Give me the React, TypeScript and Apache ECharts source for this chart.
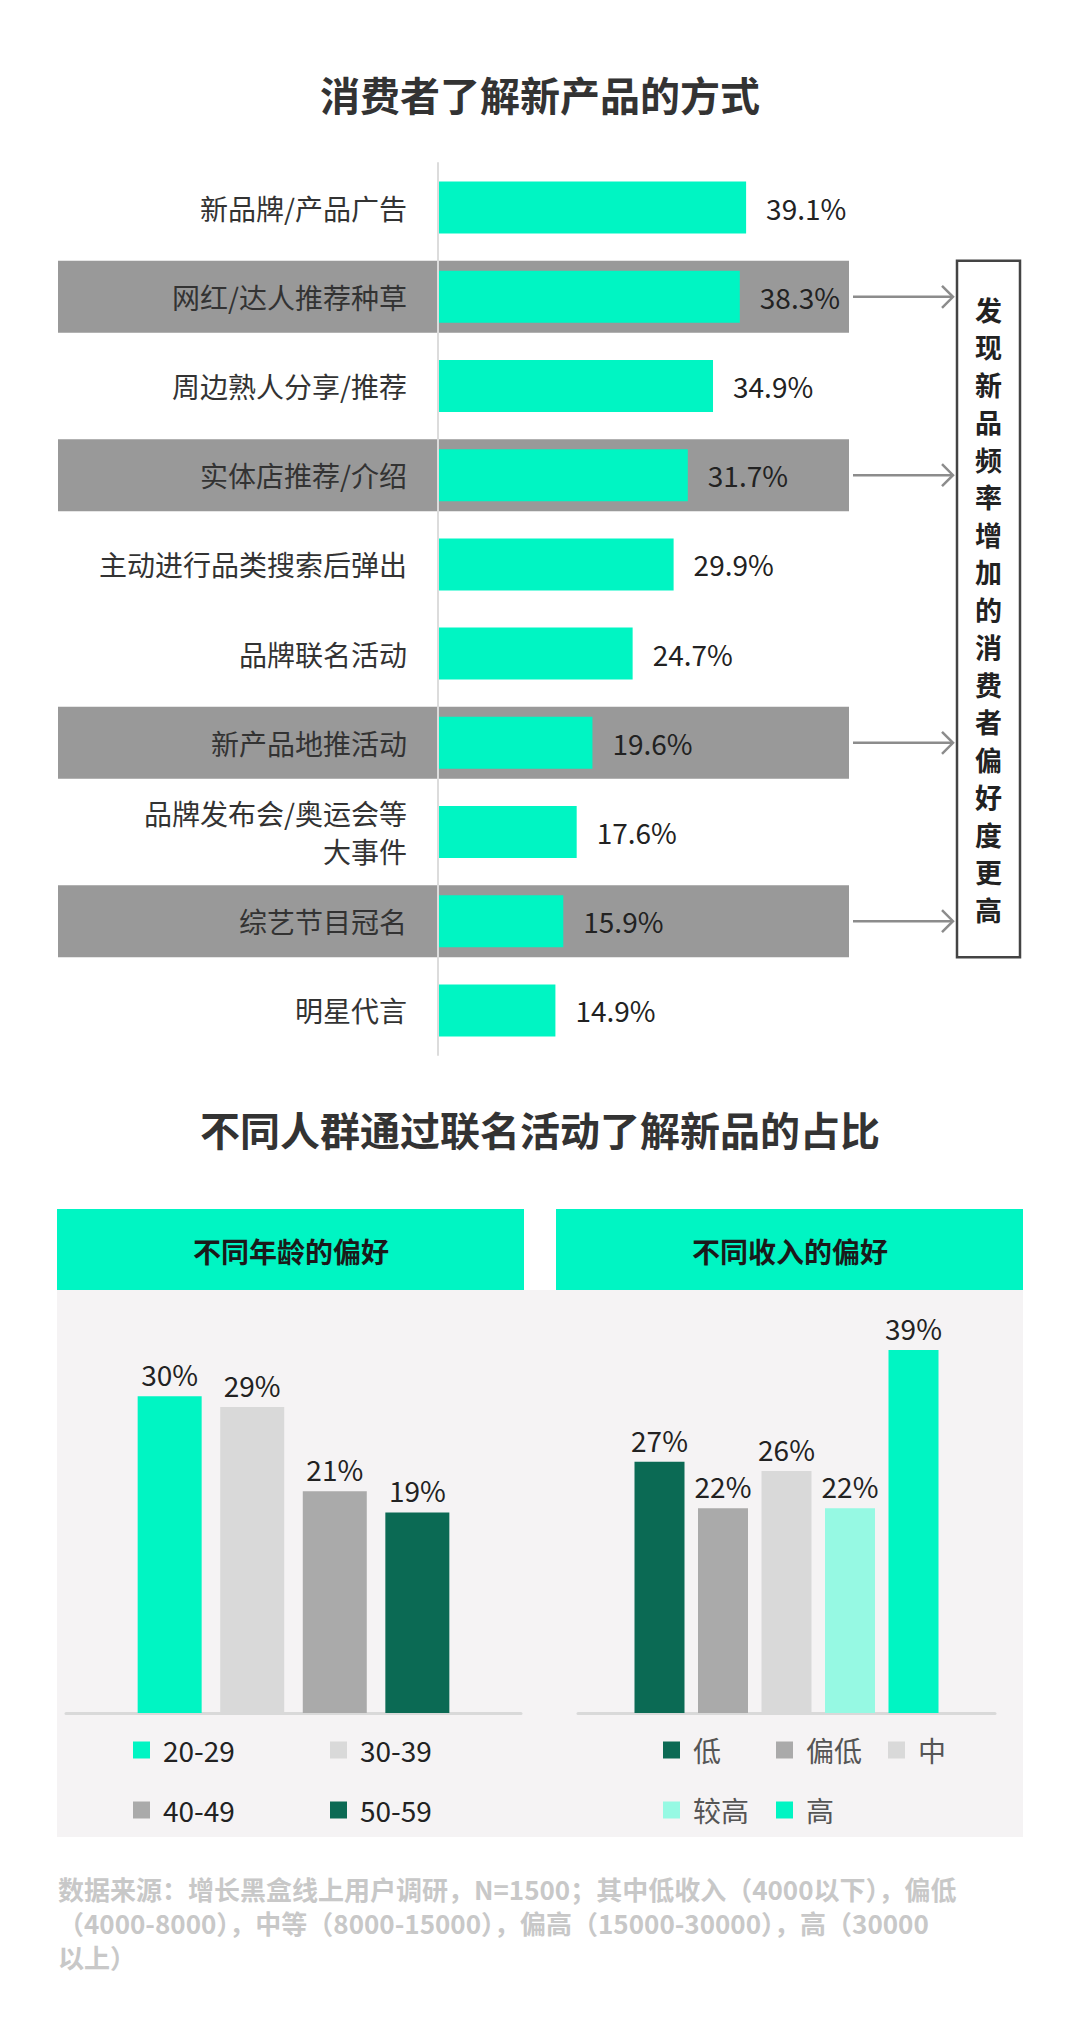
import React, { useEffect, useRef } from "react";
import * as echarts from "echarts";

const categories = [
  "新品牌/产品广告",
  "网红/达人推荐种草",
  "周边熟人分享/推荐",
  "实体店推荐/介绍",
  "主动进行品类搜索后弹出",
  "品牌联名活动",
  "新产品地推活动",
  "品牌发布会/奥运会等\n大事件",
  "综艺节目冠名",
  "明星代言",
];
const shares = [39.1, 38.3, 34.9, 31.7, 29.9, 24.7, 19.6, 17.6, 15.9, 14.9];
const highlighted = ["网红/达人推荐种草", "实体店推荐/介绍", "新产品地推活动", "综艺节目冠名"];
const sideNote = "发现新品频率增加的消费者偏好度更高";

const title1 = "消费者了解新产品的方式";
const title2 = "不同人群通过联名活动了解新品的占比";
const ageHeader = "不同年龄的偏好";
const incomeHeader = "不同收入的偏好";

const ageGroups = ["20-29", "30-39", "40-49", "50-59"];
const ageShares = [30, 29, 21, 19];
const incomeGroups = ["低", "偏低", "中", "较高", "高"];
const incomeShares = [27, 22, 26, 22, 39];

const footnoteLines = [
  "数据来源：增长黑盒线上用户调研，N=1500；其中低收入（4000以下），偏低",
  "（4000-8000），中等（8000-15000），偏高（15000-30000），高（30000",
  "以上）",
];

const MINT = "#00F5C3";
const ageColors = [MINT, "#D9D9D9", "#AAAAAA", "#0B6A54"];
const incomeColors = ["#0B6A54", "#AAAAAA", "#D9D9D9", "#96F9E3", MINT];
const ageLegendPos = [
  [133, 1750],
  [330, 1750],
  [133, 1810],
  [330, 1810],
];
const incomeLegendPos = [
  [663, 1750],
  [776, 1750],
  [888, 1750],
  [663, 1810],
  [776, 1810],
];

const FONT = '"Noto Sans CJK SC", "Noto Sans", sans-serif';

function txt(text: string, x: number, y: number, size: number, fill: string, weight: any, align = "center", extra: any = {}) {
  return {
    type: "text",
    x,
    y,
    silent: true,
    z: 5,
    style: {
      text,
      fill,
      fontSize: size,
      fontWeight: weight,
      fontFamily: FONT,
      textAlign: align,
      align,
      textVerticalAlign: "middle",
      verticalAlign: "middle",
      ...extra,
    },
  };
}

export default function App() {
  const ref = useRef<HTMLDivElement>(null);
  useEffect(() => {
    const chart = echarts.init(ref.current!, null, { renderer: "svg" });
    const series: any[] = [
      {
        type: "bar",
        name: "share",
        xAxisIndex: 0,
        yAxisIndex: 0,
        data: shares,
        barWidth: 52,
        itemStyle: { color: MINT },
        z: 3,
        label: {
          show: true,
          position: "right",
          distance: 20,
          formatter: (p: any) => p.value.toFixed(1) + "%",
          fontSize: 28,
          color: "#222",
          fontFamily: FONT,
        },
      },
    ];
    ageGroups.forEach((g, i) => {
      series.push({
        type: "bar",
        name: g,
        xAxisIndex: 1,
        yAxisIndex: 1,
        data: [ageShares[i]],
        barWidth: 64,
        barGap: "29%",
        itemStyle: { color: ageColors[i] },
        label: { show: true, position: "top", distance: 8, formatter: "{c}%", fontSize: 28, color: "#222", fontFamily: FONT },
      });
    });
    incomeGroups.forEach((g, i) => {
      series.push({
        type: "bar",
        name: g,
        xAxisIndex: 2,
        yAxisIndex: 2,
        data: [incomeShares[i]],
        barWidth: 50,
        barGap: "27%",
        itemStyle: { color: incomeColors[i] },
        label: { show: true, position: "top", distance: 8, formatter: "{c}%", fontSize: 28, color: "#222", fontFamily: FONT },
      });
    });

    const legends: any[] = [];
    ageGroups.forEach((g, i) => {
      legends.push({
        data: [g],
        left: ageLegendPos[i][0],
        top: ageLegendPos[i][1] - 14,
        padding: 0,
        icon: "rect",
        itemWidth: 17,
        itemHeight: 17,
        selectedMode: false,
        textStyle: { fontSize: 28, color: "#222", fontFamily: FONT, padding: [0, 0, 0, 8] },
      });
    });
    incomeGroups.forEach((g, i) => {
      legends.push({
        data: [g],
        left: incomeLegendPos[i][0],
        top: incomeLegendPos[i][1] - 14,
        padding: 0,
        icon: "rect",
        itemWidth: 17,
        itemHeight: 17,
        selectedMode: false,
        textStyle: { fontSize: 28, color: "#555", fontFamily: FONT, padding: [0, 0, 0, 8] },
      });
    });

    chart.setOption({
      animation: false,
      backgroundColor: "#fff",
      textStyle: { fontFamily: FONT },
      grid: [
        { left: 438, top: 163, width: 394, height: 892 },
        { left: 66, top: 1333, width: 455, height: 380 },
        { left: 578, top: 1322, width: 417, height: 391 },
      ],
      xAxis: [
        { type: "value", gridIndex: 0, min: 0, max: 50, show: false },
        {
          type: "category",
          gridIndex: 1,
          data: ["年龄"],
          axisLine: { lineStyle: { color: "#D9D9D9", width: 3 } },
          axisTick: { show: false },
          axisLabel: { show: false },
        },
        {
          type: "category",
          gridIndex: 2,
          data: ["收入"],
          axisLine: { lineStyle: { color: "#D9D9D9", width: 3 } },
          axisTick: { show: false },
          axisLabel: { show: false },
        },
      ],
      yAxis: [
        {
          type: "category",
          gridIndex: 0,
          inverse: true,
          data: categories,
          axisLine: { lineStyle: { color: "#DCDCDC", width: 2 } },
          axisTick: { show: false },
          axisLabel: { fontSize: 28, color: "#333", margin: 31, lineHeight: 38, fontFamily: FONT },
          z: 4,
        },
        { type: "value", gridIndex: 1, min: 0, max: 36, show: false },
        { type: "value", gridIndex: 2, min: 0, max: 42, show: false },
      ],
      legend: legends,
      series,
    });

    const graphics: any[] = [];
    graphics.push(txt(title1, 540, 94, 40, "#333", "bold"));
    graphics.push(txt(title2, 540, 1129, 40, "#333", "bold"));
    // panels
    graphics.push({ type: "rect", z: -1, silent: true, shape: { x: 57, y: 1290, width: 966, height: 547 }, style: { fill: "#F5F3F4" } });
    graphics.push({ type: "rect", z: -1, silent: true, shape: { x: 57, y: 1209, width: 467, height: 81 }, style: { fill: MINT } });
    graphics.push({ type: "rect", z: -1, silent: true, shape: { x: 556, y: 1209, width: 467, height: 81 }, style: { fill: MINT } });
    graphics.push(txt(ageHeader, 291, 1251, 28, "#1a1a1a", "bold"));
    graphics.push(txt(incomeHeader, 790, 1251, 28, "#1a1a1a", "bold"));
    // footnote, one text per line
    footnoteLines.forEach((line, i) => {
      graphics.push(txt(line, 58, 1888 + i * 34, 26, "#C8C8C8", "bold", "left"));
    });

    // highlight bands & arrows from the category scale
    const ys = highlighted.map((name) => chart.convertToPixel({ yAxisIndex: 0 }, name) as number);
    ys.forEach((y) => {
      graphics.push({ type: "rect", z: -1, silent: true, shape: { x: 58, y: y - 36, width: 791, height: 72 }, style: { fill: "#999999" } });
      graphics.push({ type: "line", z: 1, silent: true, shape: { x1: 853, y1: y, x2: 953, y2: y }, style: { stroke: "#8C8C8C", lineWidth: 2.5 } });
      graphics.push({
        type: "polyline",
        z: 1,
        silent: true,
        shape: { points: [[942, y - 11], [953, y], [942, y + 11]] },
        style: { stroke: "#8C8C8C", lineWidth: 2.5, fill: "none" },
      });
    });
    const boxTop = ys[0] - 36;
    const boxBottom = ys[ys.length - 1] + 36;
    graphics.push({
      type: "rect",
      z: 1,
      silent: true,
      shape: { x: 957, y: boxTop, width: 63, height: boxBottom - boxTop },
      style: { fill: "#fff", stroke: "#444", lineWidth: 2.5 },
    });
    graphics.push(
      txt(sideNote.split("").join("\n"), 988.5, (boxTop + boxBottom) / 2, 27, "#222", "bold", "center", { lineHeight: 37.5 })
    );

    chart.setOption({ graphic: graphics });
    return () => chart.dispose();
  }, []);
  return (
    <div
      ref={ref}
      style={{ position: "absolute", left: 0, top: 0, width: 1080, height: 2033, background: "#fff" }}
    />
  );
}
